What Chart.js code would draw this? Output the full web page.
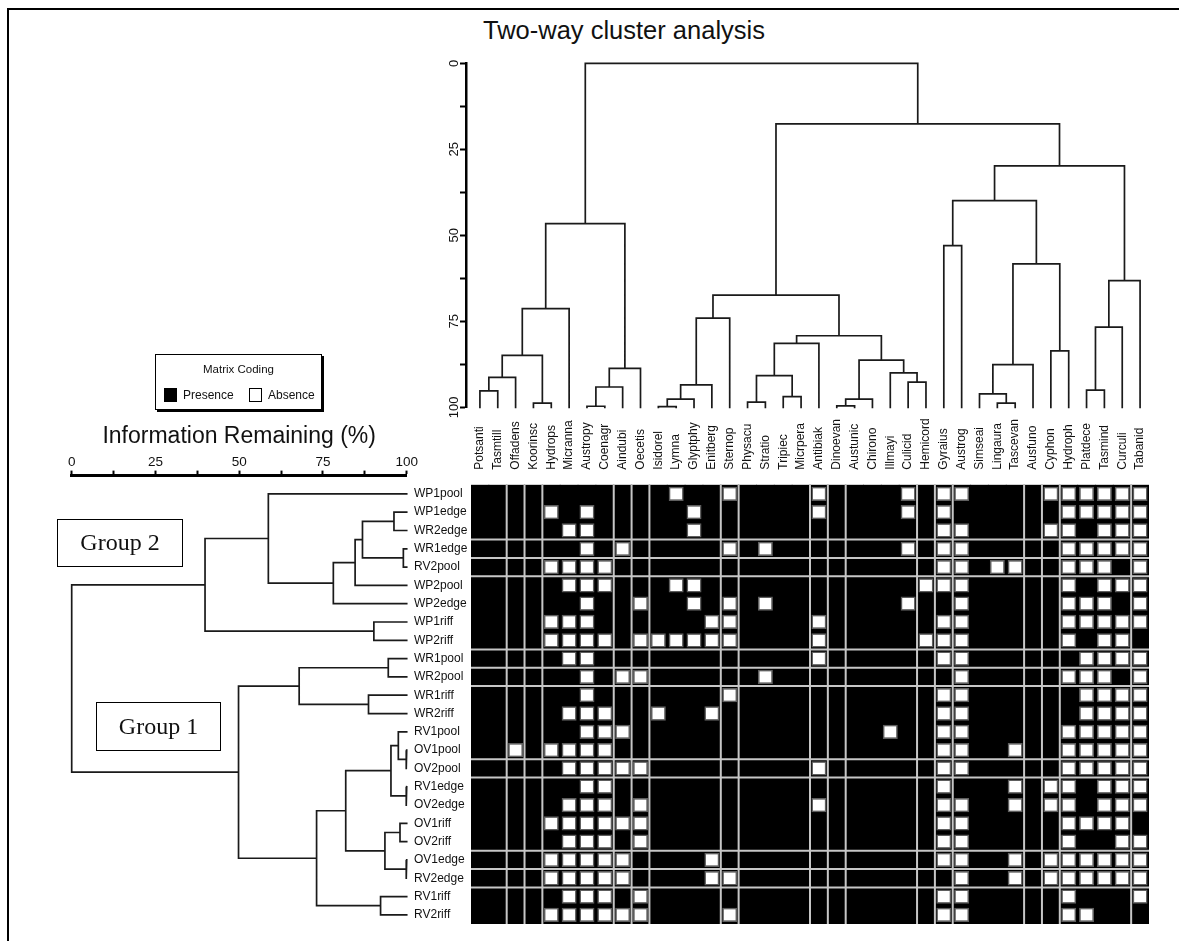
<!DOCTYPE html>
<html lang="en">
<head>
<meta charset="utf-8">
<title>Two-way cluster analysis</title>
<script src="https://cdn.jsdelivr.net/npm/chart.js@4.4.1/dist/chart.umd.min.js"></script>
<style>
  html, body { margin: 0; padding: 0; background: #fff; }
  body { position: relative; width: 1179px; height: 941px; overflow: hidden;
         font-family: "Liberation Sans", Arial, sans-serif; color: #111; }
  canvas { position: absolute; }
  .abs { position: absolute; }
  #frame { left: 7px; top: 8px; width: 1300px; height: 1000px;
           border-left: 2px solid #000; border-top: 2px solid #000; }
  #title { left: 424px; width: 400px; top: 15px; text-align: center;
           font-size: 25.5px; line-height: 30px; }
  #legend { left: 155px; top: 354px; width: 165px; height: 54px;
            border: 1px solid #000; box-shadow: 2px 2px 0 #000; background: #fff; }
  #legend .head { left: 0; width: 100%; top: 7px; text-align: center;
                  font-size: 11.5px; line-height: 14px; }
  #legend .sw { top: 33px; width: 13px; height: 14px; box-sizing: border-box; }
  #legend .txt { top: 33px; font-size: 12px; line-height: 14px; }
  .group { box-sizing: border-box; border: 1.5px solid #000; text-align: center;
           font-family: "Liberation Serif", "Times New Roman", serif; font-size: 24px; }
</style>
</head>
<body>
<div id="frame" class="abs"></div>
<div id="title" class="abs">Two-way cluster analysis</div>

<canvas id="taxaTree" width="779" height="380" style="left:400px;top:40px"></canvas>
<canvas id="matrix" width="779" height="561" style="left:400px;top:380px"></canvas>
<canvas id="siteTree" width="380" height="530" style="left:40px;top:410px"></canvas>

<div id="legend" class="abs">
  <div class="abs head">Matrix Coding</div>
  <div class="abs sw" style="left:8px;background:#000"></div>
  <div class="abs txt" style="left:27px">Presence</div>
  <div class="abs sw" style="left:93px;border:1px solid #000;background:#fff"></div>
  <div class="abs txt" style="left:112px">Absence</div>
</div>
<div class="abs group" style="left:57px;top:519px;width:126px;height:48px;line-height:45px">Group 2</div>
<div class="abs group" style="left:96px;top:702px;width:125px;height:49px;line-height:46px">Group 1</div>

<script>
// Taxa (matrix columns, top tree leaves) in dendrogram order
const taxa = ['Potsanti','Tasmtill','Offadens','Koorinsc','Hydrops','Micranna','Austropy','Coenagr',
  'Aindubi','Oecetis','Isidorel','Lymna','Glyptphy','Enitberg','Sternop','Physacu','Stratio','Tripiec',
  'Micrpera','Antibiak','Dinoevan','Austunic','Chirono','Illmayi','Culicid','Hemicord','Gyraius',
  'Austrog','Simseai','Lingaura','Tascevan','Ausfuno','Cyphon','Hydroph','Platdece','Tasmind',
  'Curculi','Tabanid'];

// Sites (matrix rows, left tree leaves) in dendrogram order
const sites = ['WP1pool','WP1edge','WR2edge','WR1edge','RV2pool','WP2pool','WP2edge','WP1riff',
  'WP2riff','WR1pool','WR2pool','WR1riff','WR2riff','RV1pool','OV1pool','OV2pool','RV1edge',
  'OV2edge','OV1riff','OV2riff','OV1edge','RV2edge','RV1riff','RV2riff'];

// Taxa (column indices) absent from each site; every other cell is a presence
const absentBySite = [
  [11,14,19,24,26,27,32,33,34,35,36,37],
  [4,6,12,19,24,26,33,34,35,36,37],
  [5,6,12,26,27,32,33,35,36,37],
  [6,8,14,16,24,26,27,33,34,35,36,37],
  [4,5,6,7,26,27,29,30,33,34,35,37],
  [5,6,7,11,12,25,26,27,33,35,36,37],
  [6,9,12,14,16,24,27,33,34,35,37],
  [4,5,6,13,14,19,26,27,33,34,35,36,37],
  [4,5,6,7,9,10,11,12,13,14,19,25,26,27,33,35,36],
  [5,6,19,26,27,34,35,36,37],
  [6,8,9,16,27,33,34,35,37],
  [6,14,26,27,34,35,36,37],
  [5,6,7,10,13,26,27,34,35,36,37],
  [6,7,8,23,26,27,33,34,35,36,37],
  [2,4,5,6,7,26,27,30,33,34,35,36,37],
  [5,6,7,8,9,19,26,27,33,34,35,36,37],
  [6,7,26,30,32,33,35,36,37],
  [5,6,7,9,19,26,27,30,32,33,35,36,37],
  [4,5,6,7,8,9,26,27,33,34,35,36],
  [5,6,7,9,26,27,33,36,37],
  [4,5,6,7,8,13,26,27,30,32,33,34,35,36,37],
  [4,5,6,7,8,13,14,27,30,32,33,34,35,36,37],
  [5,6,7,9,26,27,33,37],
  [4,5,6,7,8,9,14,26,27,33,34]
];

// Group divisions drawn across the matrix (boundary before this column / row)
const columnBreaks = [2,3,4,8,9,10,14,15,19,20,21,25,26,27,31,32,33,37];
const rowBreaks = [3,4,5,9,10,11,15,16,20,21,22];

// Joins: [node A, node B, information remaining (%)].
// Nodes 0..n-1 are leaves; node n+k is the k-th join.
const taxaJoins = [
  [0,1,95.2],[38,2,91.3],[3,4,98.8],[39,40,84.9],[41,5,71.3],
  [6,7,99.7],[43,8,94.1],[44,9,88.7],[42,45,46.6],
  [10,11,99.8],[47,12,97.6],[48,13,93.5],[49,14,74.1],
  [15,16,98.5],[17,18,96.9],[51,52,90.8],[53,19,81.4],
  [20,21,99.6],[55,22,97.6],[24,25,92.7],[23,57,90.0],[56,58,86.3],[54,59,79.2],[50,60,67.4],
  [26,27,53.0],[29,30,98.8],[28,63,96.1],[64,31,87.6],[32,33,83.6],[65,66,58.3],[62,67,39.9],
  [34,35,95.0],[69,36,76.7],[70,37,63.2],[68,71,29.8],[61,72,17.6],[46,73,0]
];
const siteJoins = [
  [1,2,96.2],[3,4,99.0],[24,25,86.8],[26,5,84.6],[27,6,78.1],[0,28,58.7],[7,8,90.2],[29,30,39.8],
  [9,10,94.5],[11,12,88.6],[32,33,67.9],[14,15,99.8],[13,35,97.5],[16,17,99.8],[36,37,95.3],
  [18,19,98.0],[20,21,99.8],[39,40,93.5],[38,41,81.8],[22,23,92.2],[42,43,73.1],[34,44,49.8],[31,45,0]
];

const tickLabels = [0, 25, 50, 75, 100];

Chart.defaults.font.family = "'Liberation Sans', Arial, sans-serif";
Chart.defaults.color = '#111';

// Each join becomes one bracket: child A up to the join level, across, down to child B.
function treeSegments(leafCount, joins, horizontal) {
  const pos = [], level = [];
  for (let i = 0; i < leafCount; i++) { pos.push(i + 0.5); level.push(100); }
  const pt = (p, v) => horizontal ? { x: v, y: p } : { x: p, y: v };
  const out = [];
  joins.forEach(([a, b, h]) => {
    out.push(pt(pos[a], level[a]), pt(pos[a], h), pt(pos[b], h), pt(pos[b], level[b]), { x: null, y: null });
    pos.push((pos[a] + pos[b]) / 2);
    level.push(h);
  });
  return out;
}

const treeLine = { showLine: true, borderColor: '#1a1a1a', borderWidth: 1.7, pointRadius: 0,
  spanGaps: false, clip: false, borderJoinStyle: 'miter', borderCapStyle: 'square' };
const quiet = { legend: { display: false }, tooltip: { enabled: false } };
const majorOnly = v => tickLabels.includes(v) ? String(v) : '';

// Top tree: taxa
new Chart(document.getElementById('taxaTree'), {
  type: 'scatter',
  data: { datasets: [Object.assign({ data: treeSegments(taxa.length, taxaJoins, false) }, treeLine)] },
  options: {
    responsive: false, animation: false, events: [],
    layout: { padding: { left: 0, right: 30, top: 23.3, bottom: 12.7 } },
    plugins: quiet,
    scales: {
      x: { type: 'linear', display: false, min: -0.28, max: taxa.length },
      y: {
        type: 'linear', reverse: true, min: 0, max: 100,
        afterFit: s => { s.width = 66; s.paddingTop = 0; s.paddingBottom = 0; },
        ticks: { stepSize: 12.5, autoSkip: false, minRotation: 90, maxRotation: 90,
                 crossAlign: 'center', padding: -5, font: { size: 13 }, callback: majorOnly },
        grid: { drawOnChartArea: false, drawTicks: true, tickLength: 6, tickWidth: 2, tickColor: '#000' },
        border: { display: true, color: '#000', width: 2.5 }
      }
    }
  }
});

// Left tree: sites
new Chart(document.getElementById('siteTree'), {
  type: 'scatter',
  data: { datasets: [Object.assign({ data: treeSegments(sites.length, siteJoins, true) }, treeLine)] },
  options: {
    responsive: false, animation: false, events: [],
    layout: { padding: { left: 31.7, right: 13.3, top: 0, bottom: 16 } },
    plugins: quiet,
    scales: {
      x: {
        type: 'linear', position: 'top', min: 0, max: 100,
        afterFit: s => { s.height = 65.6; s.paddingLeft = 0; s.paddingRight = 0; },
        title: { display: true, text: 'Information Remaining (%)', font: { size: 23 }, color: '#111',
                 padding: { top: 13, bottom: 0 } },
        ticks: { stepSize: 12.5, autoSkip: false, maxRotation: 0, padding: 0,
                 font: { size: 13.5 }, callback: majorOnly },
        grid: { drawOnChartArea: false, drawTicks: true, tickLength: 5, tickWidth: 2, tickColor: '#000' },
        border: { display: true, color: '#000', width: 3 }
      },
      y: { type: 'linear', display: false, reverse: true, min: -0.5, max: sites.length }
    }
  }
});

// Presence / absence matrix
const INSET_Y = 0.11;           // vertical margin of an absence mark inside its cell (row units)
const presentCells = [], absentCells = [], absentMarks = [];
sites.forEach((site, r) => {
  taxa.forEach((taxon, c) => {
    const cell = { x: c + 0.5, y: [r, r + 1] };
    if (absentBySite[r].includes(c)) {
      absentCells.push(cell);
      absentMarks.push({ x: c + 0.5, y: [r + INSET_Y, r + 1 - INSET_Y] });
    } else {
      presentCells.push(cell);
    }
  });
});
const breakLines = [];
columnBreaks.forEach(c => breakLines.push({ x: c, y: 0 }, { x: c, y: sites.length }, { x: null, y: null }));
rowBreaks.forEach(r => breakLines.push({ x: 0, y: r }, { x: taxa.length, y: r }, { x: null, y: null }));

new Chart(document.getElementById('matrix'), {
  type: 'bar',
  data: {
    datasets: [
      { label: 'Presence', data: presentCells, backgroundColor: '#000', inflateAmount: 0.5, order: 2 },
      { label: 'Absence cell', data: absentCells, backgroundColor: '#000', inflateAmount: 0.5, order: 2 },
      { label: 'Absence', data: absentMarks, backgroundColor: '#fff', borderColor: '#5e5e5e',
        borderWidth: 1.5, borderSkipped: false, barPercentage: 0.84, inflateAmount: 0, order: 1 },
      { type: 'line', label: 'Groups', data: breakLines, borderColor: '#c6c6c6', borderWidth: 2,
        pointRadius: 0, spanGaps: false, clip: false, order: 0 }
    ]
  },
  options: {
    responsive: false, animation: false, events: [],
    layout: { padding: { left: 14, right: 30, top: 0, bottom: 17 } },
    plugins: quiet,
    datasets: { bar: { grouped: false, categoryPercentage: 1, barPercentage: 1 } },
    scales: {
      x: {
        type: 'linear', position: 'top', min: 0, max: taxa.length, offset: false,
        afterBuildTicks: s => { s.ticks = taxa.map((t, i) => ({ value: i + 0.5 })); },
        afterFit: s => { s.height = 104.7; s.paddingLeft = 0; s.paddingRight = 0; },
        ticks: { autoSkip: false, minRotation: 90, maxRotation: 90, padding: 15, labelOffset: 14.4,
                 font: { size: 12 }, callback: (v, i) => taxa[i] },
        grid: { display: false, drawTicks: false },
        border: { display: false }
      },
      y: {
        type: 'linear', reverse: true, min: 0, max: sites.length,
        afterBuildTicks: s => { s.ticks = sites.map((t, i) => ({ value: i + 0.5 })); },
        afterFit: s => { s.width = 57; s.paddingTop = 0; s.paddingBottom = 0; },
        ticks: { autoSkip: false, crossAlign: 'far', font: { size: 12 }, callback: (v, i) => sites[i] },
        grid: { display: false, drawTicks: false },
        border: { display: false }
      }
    }
  }
});
</script>
</body>
</html>
